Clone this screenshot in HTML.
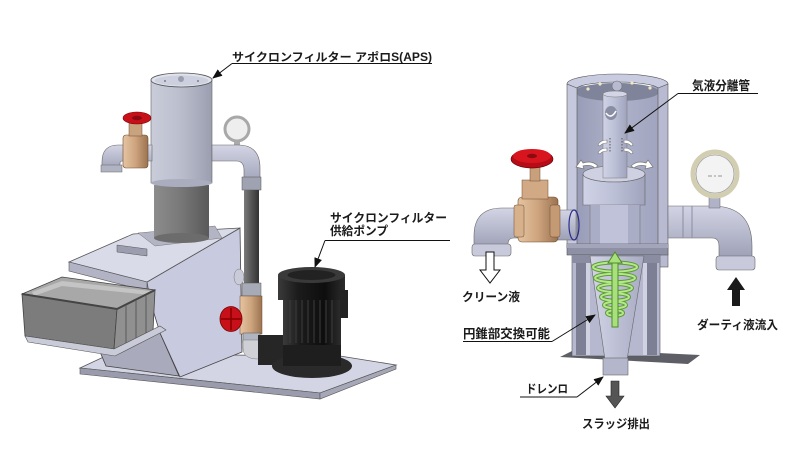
<!DOCTYPE html>
<html><head><meta charset="utf-8"><style>
html,body{margin:0;padding:0;background:#fff;}
svg{display:block;}
text{font-family:"Liberation Sans","Noto Sans CJK JP",sans-serif;font-weight:bold;fill:#1a1a1a;}
</style></head><body>
<svg width="800" height="450" viewBox="0 0 800 450" xmlns="http://www.w3.org/2000/svg">
<defs>
<marker id="ah" markerWidth="10" markerHeight="8" refX="9" refY="4" orient="auto" markerUnits="userSpaceOnUse"><path d="M0,0 L10,4 L0,8 Z" fill="#111"/></marker>
<linearGradient id="gCyl" x1="0" x2="1" y1="0" y2="0"><stop offset="0" stop-color="#c9ccd9"/><stop offset="0.45" stop-color="#bcc0ce"/><stop offset="1" stop-color="#9a9eb0"/></linearGradient>
<linearGradient id="gDark" x1="0" x2="1"><stop offset="0" stop-color="#8c8c8c"/><stop offset="0.45" stop-color="#7a7a7a"/><stop offset="1" stop-color="#595959"/></linearGradient>
<linearGradient id="gDarkPipe" x1="0" x2="1"><stop offset="0" stop-color="#7a7a7a"/><stop offset="0.5" stop-color="#555"/><stop offset="1" stop-color="#333"/></linearGradient>
<linearGradient id="gBrass" x1="0" x2="1"><stop offset="0" stop-color="#e6c4a2"/><stop offset="0.5" stop-color="#cda47e"/><stop offset="1" stop-color="#9b7350"/></linearGradient>
<linearGradient id="gPump" x1="0" x2="1"><stop offset="0" stop-color="#3a3a3a"/><stop offset="0.3" stop-color="#1b1b1b"/><stop offset="0.7" stop-color="#0e0e0e"/><stop offset="1" stop-color="#2c2c2c"/></linearGradient>
<linearGradient id="gPipeR" x1="0" x2="0" y1="0" y2="1"><stop offset="0" stop-color="#d3d5e5"/><stop offset="1" stop-color="#9da0b6"/></linearGradient>
<linearGradient id="gInt" x1="0" x2="1"><stop offset="0" stop-color="#989cb6"/><stop offset="0.5" stop-color="#aeb2ca"/><stop offset="1" stop-color="#a0a4be"/></linearGradient>
<linearGradient id="gTube" x1="0" x2="1"><stop offset="0" stop-color="#d0d3e6"/><stop offset="0.5" stop-color="#bcc0d6"/><stop offset="1" stop-color="#9fa3bc"/></linearGradient>
<linearGradient id="gCone" x1="0" x2="1"><stop offset="0" stop-color="#d2d4e6"/><stop offset="1" stop-color="#a8abc3"/></linearGradient>
</defs>

<!-- ============ LEFT MACHINE ============ -->
<polygon points="80,368 110,354 340,356 396,365 320,393" fill="#d3d5e4" stroke="#555" stroke-width="0.8"/>
<polygon points="80,368 320,393 320,399 80,374" fill="#9a9cad" stroke="#555" stroke-width="0.6"/>
<polygon points="320,393 396,365 396,369 320,399" fill="#a6a8b8" stroke="#555" stroke-width="0.6"/>

<polygon points="98,347 160,333 179,376 106,366" fill="#a9abbd" stroke="#444" stroke-width="0.8"/>
<polygon points="147,282 240,228 242,352 180,377 160,333 150,300" fill="#c8cadf" stroke="#444" stroke-width="0.8"/>
<polygon points="69,262 133,234 240,228 147,282" fill="#d9dbe8" stroke="#555" stroke-width="0.8"/>
<polygon points="69,262 147,282 147,291 69,271" fill="#b2b4c6" stroke="#555" stroke-width="0.6"/>
<polygon points="138,233 215,226 222,238 155,246" fill="#b3b5c4" stroke="#777" stroke-width="0.5"/>
<polygon points="117,245 147,249 147,256 117,252" fill="#9c9eb0" stroke="#555" stroke-width="0.5"/>
<rect x="154" y="185" width="55" height="53" fill="url(#gDark)"/>
<ellipse cx="181.5" cy="238" rx="27.5" ry="5" fill="#6c6c6c"/>
<rect x="151" y="80" width="61" height="103" fill="url(#gCyl)" stroke="#666" stroke-width="0.6"/>
<ellipse cx="181.5" cy="183" rx="30.5" ry="4" fill="#a9adbd"/>
<ellipse cx="181.5" cy="80" rx="30.5" ry="7" fill="#e0e2ec" stroke="#555" stroke-width="0.8"/>
<ellipse cx="181.5" cy="80.5" rx="27" ry="5" fill="#cdd0de"/>
<circle cx="181" cy="79" r="3" fill="#9a9dab"/>
<circle cx="165" cy="81" r="0.9" fill="#666"/><circle cx="198" cy="81" r="0.9" fill="#666"/>

<!-- left valve -->
<path d="M152,145 H118 Q102,145 102,162 V170 H120 V163 Q120,161 123,161 H152 Z" fill="url(#gPipeR)" stroke="#666" stroke-width="0.6"/>
<rect x="101" y="165" width="21" height="7" fill="#b0b3c2" stroke="#666" stroke-width="0.5"/>
<rect x="123" y="135" width="25" height="33" rx="3" fill="url(#gBrass)" stroke="#6d4d30" stroke-width="0.6"/>
<rect x="129" y="123" width="13" height="13" fill="#c9a27e" stroke="#6d4d30" stroke-width="0.5"/>
<ellipse cx="137" cy="118" rx="14" ry="6" fill="#c8101a" stroke="#700" stroke-width="0.6"/>
<ellipse cx="137" cy="118" rx="5" ry="2.2" fill="#8a0a10"/>

<!-- right pipework -->
<rect x="234" y="138" width="6" height="10" fill="#aaa"/>
<circle cx="237" cy="129" r="12" fill="#eee" stroke="#a8a8a8" stroke-width="3"/>
<path d="M212,145 H238 Q260,145 260,168 V185 H244 V170 Q244,161 236,161 H212 Z" fill="url(#gPipeR)" stroke="#666" stroke-width="0.6"/>
<rect x="242" y="177" width="19" height="13" fill="#9fa2b0" stroke="#555" stroke-width="0.5"/>
<rect x="244" y="190" width="15" height="95" fill="url(#gDarkPipe)"/>
<ellipse cx="239" cy="277" rx="5" ry="8" fill="#c9cbd8" stroke="#777" stroke-width="0.5"/>
<rect x="242" y="283" width="19" height="13" fill="#a7aab7" stroke="#555" stroke-width="0.5"/>
<rect x="240" y="296" width="22" height="38" fill="url(#gBrass)" stroke="#6d4d30" stroke-width="0.5"/>
<rect x="243" y="333" width="17" height="10" fill="#b0b3c0" stroke="#555" stroke-width="0.5"/>
<path d="M243,340 V348 Q243,359 258,359 H270 V342 H260 V340 Z" fill="#cfd0d6" stroke="#777" stroke-width="0.5"/>
<ellipse cx="231" cy="319" rx="11" ry="12.5" fill="#c8101a" stroke="#700" stroke-width="0.8"/>
<path d="M231,308 V330 M221,319 H241" stroke="#800" stroke-width="1.5"/>

<!-- container -->
<polygon points="22,294 62,277 155,290 117,309" fill="#a8a8a8" stroke="#444" stroke-width="0.8"/>
<polygon points="32,292 62,281 150,291 150,295 62,286 34,296" fill="#c4c4c4"/>
<polygon points="22,294 117,309 114,349 25,336" fill="#7c7c7c" stroke="#444" stroke-width="0.8"/>
<polygon points="117,309 155,290 153,331 114,349" fill="#909090" stroke="#444" stroke-width="0.8"/>
<polyline points="22,294 117,309 155,290" fill="none" stroke="#444" stroke-width="2"/>
<path d="M126,305 V344 M136,300 V340 M146,295 V335" stroke="#5a5a5a" stroke-width="1"/>
<polygon points="25,336 114,349 160,326 166,330 115,356 28,342" fill="#c9cbd9" stroke="#555" stroke-width="0.6"/>

<!-- pump -->
<rect x="258" y="335" width="26" height="30" fill="#262626"/>
<ellipse cx="312" cy="366" rx="40" ry="12" fill="#2a2a2a"/>
<rect x="283" y="338" width="58" height="28" fill="#1e1e1e"/>
<rect x="283" y="295" width="58" height="50" fill="url(#gPump)"/>
<path d="M290,300 V343 M296,300 V343 M302,300 V343 M308,300 V343 M314,300 V343 M320,300 V343 M326,300 V343 M332,300 V343" stroke="#3d3d3d" stroke-width="1"/>
<rect x="278" y="275" width="67" height="25" fill="url(#gPump)"/>
<ellipse cx="311.5" cy="275" rx="33.5" ry="8" fill="#3a3a3a"/>
<ellipse cx="311.5" cy="275" rx="24" ry="5" fill="#222"/>
<rect x="340" y="290" width="8" height="28" fill="#222"/>

<!-- left labels -->
<text x="232" y="61" font-size="11.5" textLength="200" lengthAdjust="spacingAndGlyphs">サイクロンフィルター アポロS(APS)</text>
<line x1="232" y1="63.5" x2="432" y2="63.5" stroke="#111" stroke-width="1"/>
<line x1="232" y1="63.5" x2="213" y2="78" stroke="#111" stroke-width="1" marker-end="url(#ah)"/>
<text x="330" y="222" font-size="12" textLength="117" lengthAdjust="spacingAndGlyphs">サイクロンフィルター</text>
<text x="330" y="235" font-size="12" textLength="58" lengthAdjust="spacingAndGlyphs">供給ポンプ</text>
<line x1="325" y1="240.5" x2="450" y2="240.5" stroke="#111" stroke-width="1"/>
<line x1="325" y1="240.5" x2="315" y2="267" stroke="#111" stroke-width="1" marker-end="url(#ah)"/>

<!-- ============ RIGHT DIAGRAM ============ -->
<polygon points="560,357 576,349 700,355 688,364" fill="#5e5f66"/>
<rect x="576" y="86" width="83" height="162" fill="url(#gInt)"/>
<ellipse cx="617" cy="92" rx="42" ry="9" fill="#80849a"/>
<rect x="567" y="84" width="10" height="164" fill="#c6c8dd" stroke="#555" stroke-width="0.6"/>
<rect x="658" y="84" width="10" height="183" fill="#b7bad1" stroke="#555" stroke-width="0.6"/>
<path d="M567,84 A50.5,10 0 0 1 668,84 L658,88 A41,7 0 0 0 577,88 Z" fill="#c9cbe0" stroke="#555" stroke-width="0.6"/>
<circle cx="588" cy="89" r="1.6" fill="#efe6c8"/><circle cx="600" cy="84" r="1.6" fill="#efe6c8"/>
<circle cx="632" cy="83" r="1.6" fill="#efe6c8"/><circle cx="650" cy="88" r="1.6" fill="#efe6c8"/>
<circle cx="617" cy="86" r="5" fill="#b8bbd0" stroke="#666" stroke-width="0.5"/>

<ellipse cx="614" cy="174" rx="31" ry="8" fill="#cfd1e3" stroke="#666" stroke-width="0.6"/>
<rect x="603" y="94" width="24" height="84" fill="url(#gTube)" stroke="#777" stroke-width="0.5"/>
<ellipse cx="615" cy="94" rx="12" ry="3" fill="#d3d5e6" stroke="#777" stroke-width="0.5"/>
<ellipse cx="611" cy="113" rx="6" ry="7" fill="#8a8ea4"/>
<path d="M606,113 Q611,120 616,111" stroke="#fff" stroke-width="1.5" fill="none"/>
<path d="M610,138 V152 M622,138 V152" stroke="#555" stroke-width="1" stroke-dasharray="1.5,1.5"/>
<path d="M607,140 Q600,140 598,145 L600,146 Q602,143 607,143 Z" fill="#fff" stroke="#777" stroke-width="0.6"/>
<path d="M607,148 Q600,148 598,153 L600,154 Q602,151 607,151 Z" fill="#fff" stroke="#777" stroke-width="0.6"/>
<path d="M624,140 Q631,140 633,145 L631,146 Q629,143 624,143 Z" fill="#fff" stroke="#777" stroke-width="0.6"/>
<path d="M624,148 Q631,148 633,153 L631,154 Q629,151 624,151 Z" fill="#fff" stroke="#777" stroke-width="0.6"/>
<path d="M598,166 Q592,160 583,163 L581,160 L576,167 L584,169 L583,166 Q590,164 595,168 Z" fill="#fff" stroke="#777" stroke-width="0.7"/>
<path d="M631,166 Q637,160 646,163 L648,160 L653,167 L645,169 L646,166 Q639,164 634,168 Z" fill="#fff" stroke="#777" stroke-width="0.7"/>
<path d="M583,174 A31,8 0 0 0 645,174 V205 H583 Z" fill="url(#gTube)" stroke="#666" stroke-width="0.6"/>
<rect x="590" y="205" width="50" height="43" fill="#a9adc6"/>
<rect x="600" y="205" width="28" height="43" fill="#bfc2d8"/>
<line x1="590" y1="205" x2="590" y2="248" stroke="#777" stroke-width="0.6"/>
<line x1="640" y1="205" x2="640" y2="248" stroke="#777" stroke-width="0.6"/>
<rect x="567" y="244" width="101" height="11" fill="#8e91a6" stroke="#555" stroke-width="0.6"/>
<rect x="567" y="244" width="101" height="4" fill="#a3a6ba"/>
<rect x="572" y="255" width="88" height="101" fill="#b5b8ce" stroke="#555" stroke-width="0.6"/>
<rect x="572" y="255" width="88" height="8" fill="#8a8da2"/>
<rect x="576" y="263" width="10" height="92" fill="#7d8094"/>
<rect x="586" y="263" width="4" height="92" fill="#d0d2e2"/>
<rect x="647" y="263" width="10" height="92" fill="#7d8094"/>
<rect x="643" y="263" width="4" height="92" fill="#d0d2e2"/>
<polygon points="590,256 644,256 627,360 605,360" fill="url(#gCone)" stroke="#666" stroke-width="0.6"/>
<rect x="603" y="358" width="25" height="17" fill="#b4b7cc" stroke="#666" stroke-width="0.6"/>
<g fill="none">
<ellipse cx="615" cy="267" rx="22" ry="4.5" stroke="#5e9a38" stroke-width="4"/>
<ellipse cx="615" cy="278" rx="20" ry="4.2" stroke="#5e9a38" stroke-width="4"/>
<ellipse cx="615" cy="288" rx="17" ry="4" stroke="#5e9a38" stroke-width="4"/>
<ellipse cx="615" cy="297" rx="14" ry="3.6" stroke="#5e9a38" stroke-width="4"/>
<ellipse cx="615" cy="305" rx="11" ry="3.2" stroke="#5e9a38" stroke-width="4"/>
<ellipse cx="615" cy="313" rx="8" ry="2.8" stroke="#5e9a38" stroke-width="4"/>
<ellipse cx="615" cy="267" rx="22" ry="4.5" stroke="#b4e88a" stroke-width="2"/>
<ellipse cx="615" cy="278" rx="20" ry="4.2" stroke="#b4e88a" stroke-width="2"/>
<ellipse cx="615" cy="288" rx="17" ry="4" stroke="#b4e88a" stroke-width="2"/>
<ellipse cx="615" cy="297" rx="14" ry="3.6" stroke="#b4e88a" stroke-width="2"/>
<ellipse cx="615" cy="305" rx="11" ry="3.2" stroke="#b4e88a" stroke-width="2"/>
<ellipse cx="615" cy="313" rx="8" ry="2.8" stroke="#b4e88a" stroke-width="2"/>
</g>
<rect x="612" y="261" width="6" height="66" fill="#a8e07c" stroke="#4f8a2c" stroke-width="1"/>
<polygon points="608,263 622,263 615,252" fill="#a8e07c" stroke="#4f8a2c" stroke-width="1"/>

<path d="M668,206 H712 Q752,206 752,246 V258 H719 V246 Q719,238 712,238 H668 Z" fill="url(#gPipeR)" stroke="#666" stroke-width="0.6"/>
<path d="M683,206 V238 M692,206 V238" stroke="#8a8da2" stroke-width="1"/>
<rect x="716" y="256" width="39" height="14" rx="3" fill="#c8cadc" stroke="#666" stroke-width="0.6"/>
<rect x="709" y="195" width="11" height="13" fill="#b0b3c8" stroke="#666" stroke-width="0.5"/>
<circle cx="715" cy="174" r="22" fill="#f3f3f3" stroke="#d2ceb2" stroke-width="5"/>
<circle cx="715" cy="174" r="19" fill="none" stroke="#888" stroke-width="0.6"/>
<path d="M708,176 H712 M714,176 H716 M718,176 H722" stroke="#777" stroke-width="0.8"/>

<path d="M522,208 H502 Q474,208 474,236 V248 H508 V244 Q508,238 514,238 H522 Z" fill="url(#gPipeR)" stroke="#666" stroke-width="0.6"/>
<rect x="472" y="244" width="39" height="12" rx="3" fill="#c8cadc" stroke="#666" stroke-width="0.6"/>
<rect x="556" y="210" width="20" height="30" fill="url(#gPipeR)" stroke="#666" stroke-width="0.5"/>
<ellipse cx="574" cy="225" rx="5" ry="15" fill="none" stroke="#2a2a8a" stroke-width="1.2"/>
<rect x="518" y="197" width="40" height="45" rx="4" fill="url(#gBrass)" stroke="#6d4d30" stroke-width="0.6"/>
<rect x="514" y="205" width="10" height="32" rx="2" fill="#d6b18c" stroke="#6d4d30" stroke-width="0.5"/>
<rect x="550" y="205" width="10" height="32" rx="2" fill="#c39a74" stroke="#6d4d30" stroke-width="0.5"/>
<rect x="522" y="180" width="26" height="19" fill="#d1a985" stroke="#6d4d30" stroke-width="0.5"/>
<rect x="530" y="163" width="10" height="18" fill="#c9a07c" stroke="#6d4d30" stroke-width="0.5"/>
<ellipse cx="532" cy="159" rx="21" ry="9" fill="#b50c16" stroke="#6a0008" stroke-width="0.7"/>
<ellipse cx="532" cy="156" rx="19" ry="7" fill="#d8151f"/>
<ellipse cx="532" cy="156" rx="5" ry="2.2" fill="#8a0a10"/>

<path d="M486,252 H494 V270 H500 L490,283 L480,270 H486 Z" fill="#fff" stroke="#111" stroke-width="1"/>
<path d="M732,306 H740 V290 H745 L736,277 L727,290 H732 Z" fill="#1a1a1a"/>
<path d="M611,381 H619 V396 H624 L615,408 L606,396 H611 Z" fill="#555" stroke="#222" stroke-width="0.6"/>

<text x="692" y="90" font-size="12.5" textLength="58" lengthAdjust="spacingAndGlyphs">気液分離管</text>
<line x1="678" y1="93.5" x2="758" y2="93.5" stroke="#111" stroke-width="1"/>
<line x1="678" y1="93.5" x2="625" y2="133" stroke="#111" stroke-width="1" marker-end="url(#ah)"/>
<text x="462" y="301" font-size="12" textLength="58" lengthAdjust="spacingAndGlyphs">クリーン液</text>
<text x="463" y="338" font-size="12.5" textLength="87" lengthAdjust="spacingAndGlyphs">円錐部交換可能</text>
<line x1="463" y1="341.5" x2="552" y2="341.5" stroke="#111" stroke-width="1"/>
<line x1="552" y1="341.5" x2="595" y2="315" stroke="#111" stroke-width="1" marker-end="url(#ah)"/>
<text x="697" y="329" font-size="12" textLength="81" lengthAdjust="spacingAndGlyphs">ダーティ液流入</text>
<text x="526" y="393" font-size="12" textLength="42" lengthAdjust="spacingAndGlyphs">ドレンロ</text>
<line x1="520" y1="397" x2="577" y2="397" stroke="#111" stroke-width="1"/>
<line x1="577" y1="397" x2="603" y2="377" stroke="#111" stroke-width="1" marker-end="url(#ah)"/>
<text x="582" y="428" font-size="12" textLength="68" lengthAdjust="spacingAndGlyphs">スラッジ排出</text>
</svg>
</body></html>
